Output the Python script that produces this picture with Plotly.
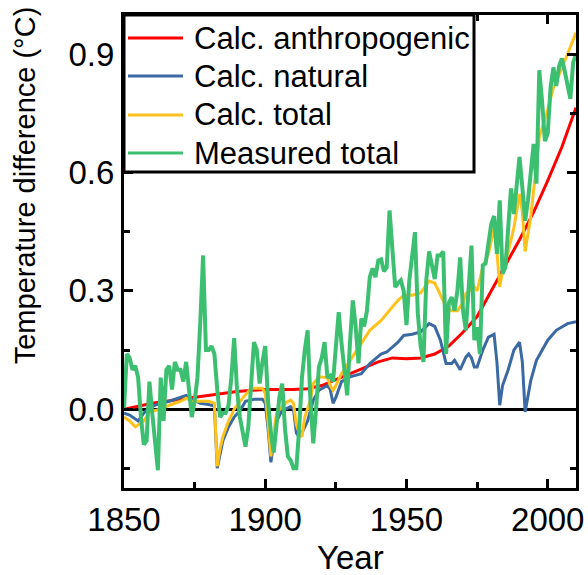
import plotly.graph_objects as go

# ---------------- data ----------------
anthro_years = [1850, 1860, 1870, 1880, 1890, 1900, 1910, 1915, 1920, 1925, 1930, 1935,
                1940, 1945, 1950, 1955, 1960, 1965, 1970, 1975, 1980, 1985, 1990, 1995,
                2000, 2005, 2010]
anthro_vals = [0.0, 0.015, 0.025, 0.035, 0.045, 0.05, 0.05, 0.052, 0.06, 0.075, 0.09, 0.105,
               0.12, 0.13, 0.128, 0.13, 0.14, 0.16, 0.195, 0.235, 0.30, 0.365, 0.43, 0.50,
               0.58, 0.665, 0.765]

natural_years = [1850, 1852, 1855, 1857, 1859, 1863, 1866, 1870, 1872, 1874, 1877, 1880, 1882,
                 1883, 1884, 1885, 1887, 1889, 1891, 1893, 1896, 1899, 1900, 1901, 1902, 1903,
                 1904, 1906, 1909, 1910, 1911, 1912, 1913, 1915, 1917, 1919, 1922, 1923, 1924,
                 1925, 1927, 1930, 1934, 1937, 1941, 1943, 1947, 1949, 1952, 1955, 1958, 1960,
                 1962, 1964, 1966, 1967, 1969, 1971, 1972, 1973, 1974, 1975, 1977, 1979, 1981,
                 1982, 1983, 1984, 1986, 1988, 1990, 1991, 1992, 1994, 1996, 2000, 2003, 2007,
                 2010]
natural_vals = [-0.01, -0.015, -0.03, -0.01, 0.005, 0.015, 0.02, 0.03, 0.035, 0.025, 0.015, 0.012,
                0.008, -0.15, -0.11, -0.08, -0.045, -0.02, -0.005, 0.02, 0.025, 0.025, 0.015,
                -0.05, -0.135, -0.08, -0.03, -0.003, 0.006, 0.0, -0.06, -0.07, -0.06, -0.03,
                0.023, 0.048, 0.06, 0.05, 0.015, 0.03, 0.07, 0.082, 0.09, 0.116, 0.14, 0.145,
                0.17, 0.187, 0.19, 0.196, 0.217, 0.21, 0.175, 0.116, 0.116, 0.124, 0.10, 0.132,
                0.14, 0.13, 0.107, 0.107, 0.15, 0.183, 0.19, 0.12, 0.01, 0.06, 0.10, 0.15, 0.17,
                0.12, -0.007, 0.073, 0.124, 0.175, 0.20, 0.217, 0.222]

total_years = [1850, 1852, 1854, 1855, 1857, 1859, 1863, 1866, 1870, 1872, 1874, 1877, 1880,
               1882, 1883, 1884, 1885, 1887, 1889, 1892, 1895, 1899, 1900, 1901, 1902, 1903,
               1904, 1907, 1909, 1910, 1911, 1912, 1913, 1914, 1916, 1917, 1919, 1922, 1923,
               1924, 1925, 1927, 1930, 1934, 1937, 1941, 1943, 1947, 1949, 1952, 1955, 1958,
               1960, 1962, 1964, 1966, 1968, 1970, 1971, 1974, 1975, 1977, 1979, 1981, 1982,
               1983, 1984, 1986, 1988, 1990, 1991, 1992, 1994, 1996, 1997, 2000, 2002, 2005,
               2007, 2010]
total_vals = [-0.02, -0.03, -0.045, -0.04, -0.03, -0.007, 0.0, 0.01, 0.02, 0.028, 0.02, 0.02,
              0.02, 0.015, -0.145, -0.10, -0.07, -0.03, 0.0, 0.028, 0.053, 0.053, 0.04, -0.035,
              -0.12, -0.06, -0.01, 0.015, 0.023, 0.015, -0.04, -0.06, -0.07, -0.02, 0.023,
              0.065, 0.082, 0.08, 0.06, 0.048, 0.06, 0.09, 0.124, 0.167, 0.20, 0.225, 0.242,
              0.276, 0.289, 0.289, 0.295, 0.325, 0.32, 0.29, 0.26, 0.25, 0.25, 0.27, 0.293,
              0.31, 0.30, 0.36, 0.394, 0.46, 0.40, 0.31, 0.35, 0.40, 0.46, 0.546, 0.50, 0.40,
              0.49, 0.62, 0.69, 0.76, 0.816, 0.865, 0.90, 0.955]

measured_years = list(range(1850, 2011))
measured_vals = [
    0.0, 0.14, 0.13, 0.10, 0.11, 0.08, -0.02, -0.09, -0.08, 0.07,          # 1850-1859
    -0.01, -0.08, -0.155, 0.08, -0.03, 0.10, 0.11, 0.05, 0.12, 0.10,       # 1860-1869
    0.10, 0.07, 0.12, 0.05, -0.02, 0.02, 0.08, 0.22, 0.39, 0.15,           # 1870-1879
    0.15, 0.16, 0.14, 0.05, -0.02, -0.01, -0.01, 0.01, 0.08, 0.18,         # 1880-1889
    0.05, -0.02, -0.06, -0.095, -0.045, 0.08, 0.17, 0.15, 0.065, 0.12,     # 1890-1899
    0.16, 0.02, -0.06, -0.11, -0.03, 0.03, 0.065, -0.05, -0.12, -0.13,     # 1900-1909
    -0.15, -0.15, -0.05, 0.08, 0.15, 0.20, 0.02, -0.087, 0.0, 0.107,       # 1910-1919
    0.13, 0.17, 0.08, 0.085, 0.07, 0.15, 0.246, 0.167, 0.10, 0.035,        # 1920-1929
    0.17, 0.276, 0.21, 0.116, 0.23, 0.21, 0.25, 0.335, 0.357, 0.335,       # 1930-1939
    0.377, 0.38, 0.35, 0.36, 0.504, 0.40, 0.31, 0.32, 0.327, 0.30,         # 1940-1949
    0.213, 0.327, 0.38, 0.449, 0.243, 0.16, 0.12, 0.327, 0.40, 0.37,       # 1950-1959
    0.33, 0.39, 0.39, 0.40, 0.14, 0.27, 0.284, 0.25, 0.30, 0.385,          # 1960-1969
    0.25, 0.20, 0.33, 0.415, 0.175, 0.208, 0.14, 0.365, 0.37, 0.42,        # 1970-1979
    0.47, 0.49, 0.394, 0.53, 0.344, 0.36, 0.45, 0.56, 0.495, 0.56,         # 1980-1989
    0.64, 0.563, 0.478, 0.53, 0.60, 0.673, 0.572, 0.86, 0.78, 0.68,        # 1990-1999
    0.70, 0.816, 0.867, 0.82, 0.87, 0.89, 0.858, 0.82, 0.787, 0.88,        # 2000-2009
    0.90,                                                                  # 2010
]

series_names = ["Calc. anthropogenic", "Calc. natural", "Calc. total", "Measured total"]
series_colors = ["#FF0000", "#3A69A3", "#FFC11E", "#3DBF71"]
series_widths = [3, 3, 3, 4]

# ---------------- figure ----------------
FONT = "Arial, Liberation Sans, sans-serif"
W, H = 588, 575
ML, MR, MT, MB = 124, 12, 15, 87
PW, PH = W - ML - MR, H - MT - MB


def px_x(p):  # pixel -> paper x
    return (p - ML) / PW


def px_y(p):  # pixel -> paper y
    return (H - MB - p) / PH


fig = go.Figure()
all_series = [(anthro_years, anthro_vals), (natural_years, natural_vals),
              (total_years, total_vals), (measured_years, measured_vals)]
for (xs, ys), name, col, w in zip(all_series, series_names, series_colors, series_widths):
    fig.add_trace(go.Scatter(x=xs, y=ys, mode="lines", name=name,
                             line=dict(color=col, width=w), showlegend=False))

# legend drawn as a box with sample lines and real text labels
shapes = [dict(type="rect", xref="paper", yref="paper",
               x0=px_x(124), x1=px_x(474), y0=px_y(172), y1=px_y(15),
               line=dict(color="black", width=3), fillcolor="white", layer="above")]
annotations = []
row_y = [38, 76, 115, 153]
for name, col, ry in zip(series_names, series_colors, row_y):
    shapes.append(dict(type="line", xref="paper", yref="paper",
                       x0=px_x(128), x1=px_x(183), y0=px_y(ry), y1=px_y(ry),
                       line=dict(color=col, width=3), layer="above"))
    annotations.append(dict(text=name, xref="paper", yref="paper",
                            x=px_x(192), y=px_y(ry), xanchor="left", yanchor="middle",
                            showarrow=False,
                            font=dict(family=FONT, size=31, color="black")))

annotations.append(dict(text="Temperature difference (°C)", textangle=-90,
                        xref="paper", yref="paper", x=0, y=0.64,
                        xanchor="center", yanchor="middle", xshift=-99,
                        showarrow=False,
                        font=dict(family=FONT, size=29, color="black")))
annotations.append(dict(text="Year", xref="paper", yref="paper",
                        x=0.5, y=px_y(557), xanchor="center", yanchor="middle",
                        showarrow=False,
                        font=dict(family=FONT, size=33, color="black")))

axis_common = dict(
    showline=True, linecolor="black", linewidth=3, mirror="ticks",
    ticks="inside", ticklen=9, tickwidth=3, tickcolor="black",
    showgrid=False, automargin=False,
    tickfont=dict(family=FONT, size=33, color="black"),
)

fig.update_layout(
    width=W, height=H,
    margin=dict(l=ML, r=MR, t=MT, b=MB, autoexpand=False),
    paper_bgcolor="white", plot_bgcolor="white",
    font=dict(family=FONT, color="black"),
    showlegend=False,
    xaxis=dict(range=[1850, 2010], tick0=1850, dtick=50,
               minor=dict(dtick=25, tick0=1850, ticks="inside", ticklen=6,
                          tickwidth=3, tickcolor="black"),
               zeroline=False, **axis_common),
    yaxis=dict(range=[-0.2, 1.0], tick0=0, dtick=0.3, tickformat=".1f",
               minor=dict(dtick=0.15, tick0=0, ticks="inside", ticklen=6,
                          tickwidth=3, tickcolor="black"),
               zeroline=True, zerolinecolor="black", zerolinewidth=3,
               **axis_common),
    shapes=shapes,
    annotations=annotations,
)

fig.write_html("out.html")
